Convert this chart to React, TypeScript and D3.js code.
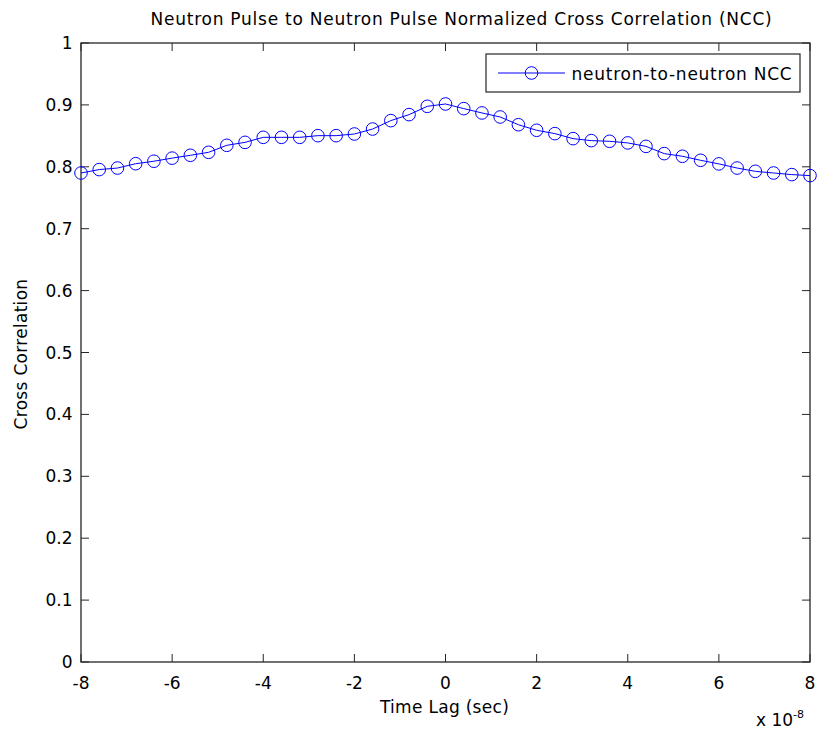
import React from "react";
import * as d3 from "d3";

const lagsE8: number[] = [
  -8, -7.6, -7.2, -6.8, -6.4, -6, -5.6, -5.2, -4.8, -4.4, -4, -3.6, -3.2, -2.8, -2.4, -2, -1.6, -1.2, -0.8, -0.4,
  0, 0.4, 0.8, 1.2, 1.6, 2, 2.4, 2.8, 3.2, 3.6, 4, 4.4, 4.8, 5.2, 5.6, 6, 6.4, 6.8, 7.2, 7.6, 8,
];
const ncc: number[] = [
  0.790, 0.7955, 0.798, 0.805, 0.809, 0.814, 0.8186, 0.8234, 0.8347, 0.8395, 0.8476, 0.8476, 0.8476, 0.8503, 0.8503,
  0.853, 0.861, 0.8746, 0.8843, 0.8977, 0.9015, 0.894, 0.887, 0.8805, 0.868, 0.859, 0.8536, 0.8455, 0.8423, 0.8412,
  0.8386, 0.833, 0.8213, 0.817, 0.8105, 0.8047, 0.798, 0.7927, 0.790, 0.7874, 0.7858,
];
const xTicks: number[] = [-8, -6, -4, -2, 0, 2, 4, 6, 8];
const yTicks: number[] = [0, 0.1, 0.2, 0.3, 0.4, 0.5, 0.6, 0.7, 0.8, 0.9, 1];
const title = "Neutron Pulse to Neutron Pulse Normalized Cross Correlation (NCC)";
const xLabel = "Time Lag (sec)";
const yLabel = "Cross Correlation";
const seriesName = "neutron-to-neutron NCC";

const W = 817;
const H = 730;
const L = 81, R = 810, T = 43, B = 662;
const FONT = "'DejaVu Sans', Verdana, sans-serif";
const AX = "#262626";
const BLUE = "#0000ff";

export default function App() {
  const x = d3.scaleLinear().domain([-8, 8]).range([L, R]);
  const y = d3.scaleLinear().domain([0, 1]).range([B, T]);
  const line = d3.line<number>().x((_, i) => x(lagsE8[i])).y((d) => y(d));
  const tl = 8;
  const fs = 17;
  const ls = 0.75;
  return (
    <svg width={W} height={H} style={{ position: "absolute", left: 0, top: 0, background: "#fff" }} fontFamily={FONT}>
      <rect x={0} y={0} width={W} height={H} fill="#fff" />
      <text x={461.5} y={25} textAnchor="middle" fontSize={fs} letterSpacing={ls} fill="#000">{title}</text>
      {xTicks.map((t) => (
        <g key={"x" + t}>
          <line x1={x(t)} x2={x(t)} y1={B} y2={B - tl} stroke={AX} />
          <line x1={x(t)} x2={x(t)} y1={T} y2={T + tl} stroke={AX} />
          <text x={x(t)} y={689} textAnchor="middle" fontSize={fs} fill="#000">{t}</text>
        </g>
      ))}
      {yTicks.map((t) => (
        <g key={"y" + t}>
          <line x1={L} x2={L + tl} y1={y(t)} y2={y(t)} stroke={AX} />
          <line x1={R} x2={R - tl} y1={y(t)} y2={y(t)} stroke={AX} />
          <text x={72.5} y={y(t) + 6} textAnchor="end" fontSize={fs} fill="#000">{d3.format("")(t)}</text>
        </g>
      ))}
      <rect x={L} y={T} width={R - L} height={B - T} fill="none" stroke={AX} strokeWidth={1.3} />
      <path d={line(ncc) || ""} fill="none" stroke={BLUE} strokeWidth={1} />
      {ncc.map((v, i) => (
        <circle key={i} cx={x(lagsE8[i])} cy={y(v)} r={6.3} fill="none" stroke={BLUE} strokeWidth={1} />
      ))}
      <rect x={486} y={54} width={314} height={38} fill="#fff" stroke={AX} strokeWidth={1.2} />
      <line x1={498} x2={565} y1={73} y2={73} stroke={BLUE} />
      <circle cx={531.5} cy={73} r={6.3} fill="none" stroke={BLUE} />
      <text x={571.5} y={80} fontSize={fs} letterSpacing={ls} fill="#000">{seriesName}</text>
      <text x={444.5} y={713} textAnchor="middle" fontSize={fs} letterSpacing={0.3} fill="#000">{xLabel}</text>
      <text transform={`translate(27, 354) rotate(-90)`} textAnchor="middle" fontSize={fs} letterSpacing={0.3} fill="#000">{yLabel}</text>
      <text x={756} y={726} fontSize={fs} fill="#000">x 10<tspan fontSize={11} dy={-8}>-8</tspan></text>
    </svg>
  );
}
